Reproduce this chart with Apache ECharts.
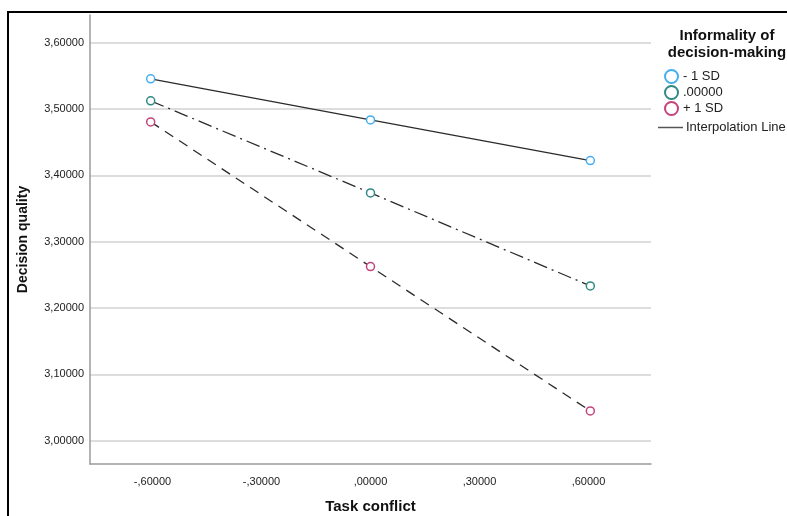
<!DOCTYPE html>
<html>
<head>
<meta charset="utf-8">
<script src="https://cdn.jsdelivr.net/npm/echarts@6/dist/echarts.min.js"></script>
<style>
  html, body { margin: 0; padding: 0; background: #fff; }
  #chart { width: 787px; height: 516px; }
</style>
</head>
<body>
<div id="chart"></div>
<script>
// values
const xValues = [-0.605, 0, 0.605]
const lowSD = [3.5457, 3.4838, 3.4224]
const meanSD = [3.5125, 3.3737, 3.2334]
const highSD = [3.4808, 3.2625, 3.0448]
const xTicks = [-0.6, -0.3, 0, 0.3, 0.6]
const yTicks = [3.0, 3.1, 3.2, 3.3, 3.4, 3.5, 3.6]
const seriesNames = ['- 1 SD', '.00000', '+ 1 SD']
const markerColors = ['#44aef0', '#2f8a85', '#c4437b']

// SPSS style numbers: comma decimal, no leading zero
function fmt(v, dropZero) {
  let s = Math.abs(v).toFixed(5).replace('.', ',')
  if (dropZero && s.startsWith('0')) s = s.slice(1)
  return (v < 0 ? '-' : '') + s
}

function pairs(ys) {
  return xValues.map((x, i) => [x, ys[i]])
}

const lineStyles = [
  { color: '#2b2b2b', width: 1.3, type: 'solid' },
  { color: '#2b2b2b', width: 1.3, type: [14, 5, 2, 5] },
  { color: '#2b2b2b', width: 1.3, type: [10, 7] }
]

const myChart = echarts.init(document.getElementById('chart'))

const series = [lowSD, meanSD, highSD].map((ys, i) => ({
  name: seriesNames[i],
  type: 'line',
  data: pairs(ys),
  symbol: 'circle',
  symbolSize: 8,
  itemStyle: { color: '#fff', borderColor: markerColors[i], borderWidth: 1.5 },
  lineStyle: lineStyles[i],
  z: 3 - i
}))
series.push({
  name: 'Interpolation Line',
  type: 'line',
  data: [],
  itemStyle: { color: '#555' },
  lineStyle: { color: '#555' }
})

myChart.setOption({
  animation: false,
  textStyle: { fontFamily: 'Liberation Sans, Arial, sans-serif' },
  grid: { left: 90, right: 136, top: 15, bottom: 52, outerBoundsMode: 'none' },
  title: {
    text: 'Informality of\ndecision-making',
    left: 722,
    top: 22,
    textAlign: 'center',
    textStyle: { fontSize: 15, fontWeight: 'bold', color: '#111', lineHeight: 17 }
  },
  legend: [
    {
      data: seriesNames.map(n => ({ name: n, icon: 'circle' })),
      orient: 'vertical',
      left: 659,
      top: 64,
      itemWidth: 13,
      itemHeight: 13,
      itemGap: 1,
      textStyle: { fontSize: 13, color: '#222' }
    },
    {
      data: [{ name: 'Interpolation Line', icon: 'rect' }],
      left: 653,
      top: 116,
      itemWidth: 25,
      itemHeight: 1.5,
      itemGap: 0,
      textStyle: { fontSize: 13, color: '#222', padding: [0, 0, 0, -2] }
    }
  ],
  graphic: [
    { type: 'rect', shape: { x: 7, y: 11, width: 780, height: 2 }, style: { fill: '#000' } },
    { type: 'rect', shape: { x: 7, y: 11, width: 2, height: 505 }, style: { fill: '#000' } }
  ],
  xAxis: {
    type: 'value',
    min: -0.772,
    max: 0.772,
    name: 'Task conflict',
    nameLocation: 'middle',
    nameGap: 35,
    nameTextStyle: { fontSize: 15, fontWeight: 'bold', color: '#111' },
    axisLine: { onZero: false, lineStyle: { color: '#9a9a9a', width: 1.5 } },
    axisTick: { show: false, customValues: xTicks },
    axisLabel: {
      customValues: xTicks,
      formatter: v => fmt(v, true),
      fontSize: 11,
      color: '#222',
      margin: 12
    },
    splitLine: { show: false }
  },
  yAxis: {
    type: 'value',
    min: 2.9648,
    max: 3.642,
    name: 'Decision quality',
    nameLocation: 'middle',
    nameRotate: 90,
    nameGap: 60,
    nameTextStyle: { fontSize: 14, fontWeight: 'bold', color: '#111' },
    axisLine: { show: true, onZero: false, lineStyle: { color: '#9a9a9a', width: 1.5 } },
    axisTick: { show: false, customValues: yTicks },
    axisLabel: {
      customValues: yTicks,
      formatter: v => fmt(v, false),
      fontSize: 11,
      color: '#222',
      margin: 6
    },
    splitLine: { show: true, lineStyle: { color: '#d2d2d2', width: 1.5 } }
  },
  series: series
})
</script>
</body>
</html>
